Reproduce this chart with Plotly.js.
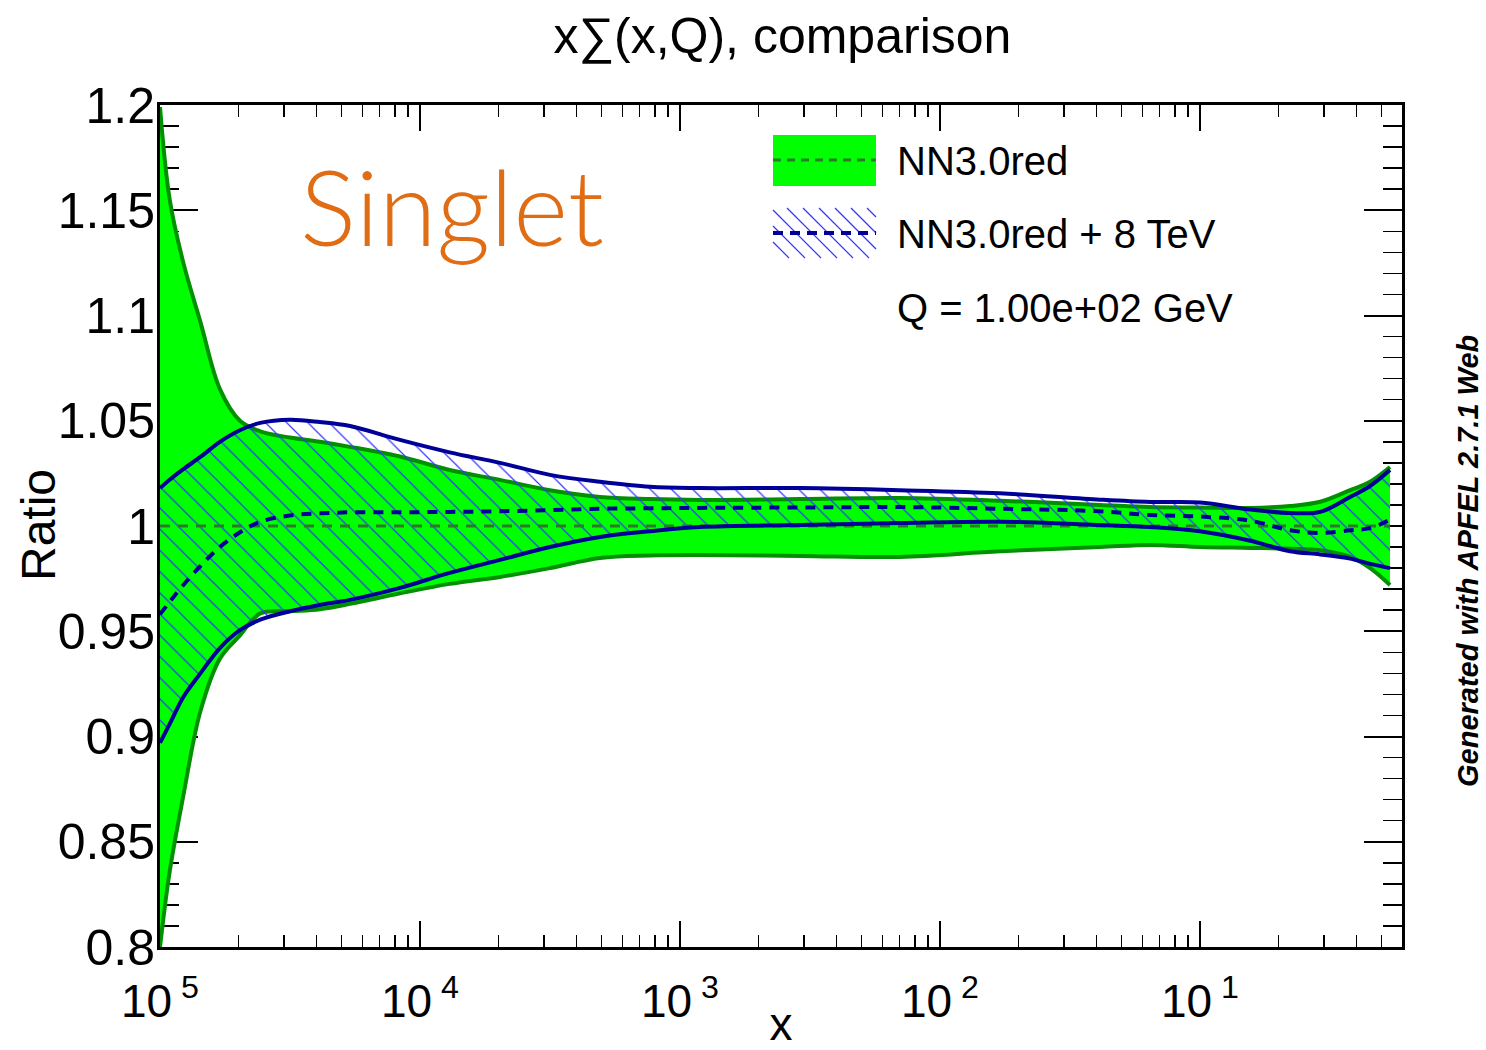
<!DOCTYPE html>
<html>
<head>
<meta charset="utf-8">
<script src="https://cdn.plot.ly/plotly-3.0.1.min.js"></script>
<style>html,body{margin:0;padding:0;background:#fff;}#chart{width:1486px;height:1050px;}</style>
</head>
<body>
<div id="chart"></div>
<script>
// x grid (values of x)
const xValues = [1e-5, 1.09e-5, 1.23e-5, 1.43e-5, 1.70e-5, 2.03e-5, 2.43e-5, 3.16e-5, 4.12e-5, 5.38e-5,
  8.38e-5, 1.30e-4, 2.03e-4, 3.16e-4, 4.92e-4, 7.67e-4, 1.19e-3, 2.90e-3, 7.02e-3, 1.70e-2,
  4.12e-2, 6.43e-2, 0.1, 0.156, 0.222, 0.29, 0.378, 0.451, 0.538];

// NN3.0red band (ratio to itself)
const refUpper = [1.199, 1.155, 1.125, 1.097, 1.065, 1.050, 1.045, 1.042, 1.040, 1.0376,
  1.033, 1.0266, 1.0219, 1.017, 1.0138, 1.0128, 1.0124, 1.0128, 1.0133, 1.012,
  1.010, 1.009, 1.0088, 1.0086, 1.0095, 1.0115, 1.017, 1.021, 1.028];
const refLower = [0.800, 0.836, 0.872, 0.912, 0.937, 0.948, 0.9585, 0.9595, 0.9605, 0.963,
  0.968, 0.9725, 0.9758, 0.980, 0.9848, 0.986, 0.9862, 0.9858, 0.9853, 0.988,
  0.990, 0.991, 0.990, 0.9896, 0.9892, 0.9885, 0.9853, 0.980, 0.972];
const refCentral = xValues.map(() => 1.0);

// NN3.0red + 8 TeV band
const newUpper = [1.018, 1.022, 1.027, 1.0328, 1.040, 1.0455, 1.049, 1.0505, 1.0494, 1.0475,
  1.0409, 1.035, 1.030, 1.0243, 1.021, 1.0186, 1.018, 1.018, 1.017, 1.0155,
  1.0125, 1.0114, 1.0112, 1.0078, 1.0062, 1.0067, 1.0138, 1.019, 1.0266];
const newLower = [0.897, 0.906, 0.9188, 0.930, 0.942, 0.9505, 0.9555, 0.9595, 0.9625, 0.9649,
  0.9706, 0.9777, 0.9839, 0.990, 0.9948, 0.9975, 0.9995, 1.0005, 1.0014, 1.002,
  1.0005, 0.9995, 0.9975, 0.993, 0.988, 0.9865, 0.9845, 0.982, 0.980];
const newCentral = [0.958, 0.964, 0.972, 0.981, 0.990, 0.997, 1.002, 1.005, 1.006, 1.0065,
  1.0065, 1.0067, 1.007, 1.0075, 1.0082, 1.0084, 1.0086, 1.0088, 1.009, 1.0082,
  1.007, 1.0052, 1.0045, 1.0025, 0.998, 0.9967, 0.998, 0.999, 1.003];

const xTickVals = [1e-5, 1e-4, 1e-3, 1e-2, 1e-1];
const xTickText = ['10<sup> 5</sup>', '10<sup> 4</sup>', '10<sup> 3</sup>', '10<sup> 2</sup>', '10<sup> 1</sup>'];
const yTickVals = [0.8, 0.85, 0.9, 0.95, 1.0, 1.05, 1.1, 1.15, 1.2];
const yTickText = ['0.8', '0.85', '0.9', '0.95', '1', '1.05', '1.1', '1.15', '1.2'];

const legendLabels = ['NN3.0red', 'NN3.0red + 8 TeV', 'Q = 1.00e+02 GeV'];

const minorX = [];
for (let e = -5; e <= -1; e++) for (let d = 2; d <= 9; d++) minorX.push(d * Math.pow(10, e));

const GREEN = '#00ff00', DKGREEN = '#009000', NAVY = '#000099', HATCH = '#3535ff';
const FONT = 'Liberation Sans, Arial, sans-serif';

const traces = [
  {x: xValues, y: refLower, type: 'scatter', mode: 'lines', line: {color: DKGREEN, width: 4, shape: 'spline'}, showlegend: false, hoverinfo: 'skip'},
  {x: xValues, y: refUpper, type: 'scatter', mode: 'lines', fill: 'tonexty', fillcolor: GREEN, line: {color: DKGREEN, width: 4, shape: 'spline'}, showlegend: false, hoverinfo: 'skip'},
  {x: xValues, y: newLower, type: 'scatter', mode: 'lines', line: {color: 'rgba(0,0,0,0)', width: 0, shape: 'spline'}, showlegend: false, hoverinfo: 'skip'},
  {x: xValues, y: newUpper, type: 'scatter', mode: 'lines', fill: 'tonexty', fillcolor: 'rgba(0,0,0,0)',
    fillpattern: {shape: '\\', fgcolor: HATCH, bgcolor: 'rgba(0,0,0,0)', size: 15, solidity: 0.08},
    line: {color: 'rgba(0,0,0,0)', width: 0, shape: 'spline'}, showlegend: false, hoverinfo: 'skip'},
  {x: xValues, y: refCentral, type: 'scatter', mode: 'lines', line: {color: '#2a7a2a', width: 3, dash: '10px,8px'}, showlegend: false, hoverinfo: 'skip'},
  {x: xValues, y: newLower, type: 'scatter', mode: 'lines', line: {color: NAVY, width: 4, shape: 'spline'}, showlegend: false, hoverinfo: 'skip'},
  {x: xValues, y: newUpper, type: 'scatter', mode: 'lines', line: {color: NAVY, width: 4, shape: 'spline'}, showlegend: false, hoverinfo: 'skip'},
  {x: xValues, y: newCentral, type: 'scatter', mode: 'lines', line: {color: NAVY, width: 4, dash: '10px,8px', shape: 'spline'}, showlegend: false, hoverinfo: 'skip'}
];

// pixel -> paper helpers for the hand-drawn legend
const L = 160, R = 1402, T = 105, B = 947;
const px = x => (x - L) / (R - L);
const py = y => (B - y) / (B - T);

const shapes = [];
shapes.push({type: 'rect', xref: 'paper', yref: 'paper', x0: px(773), x1: px(876), y0: py(186), y1: py(135), fillcolor: GREEN, line: {width: 0}});
shapes.push({type: 'line', xref: 'paper', yref: 'paper', x0: px(773), x1: px(876), y0: py(160), y1: py(160), line: {color: '#2a7a2a', width: 3, dash: '8px,6px'}});
(function () {
  const x0 = 773, x1 = 876, y0 = 208, y1 = 258, step = 16;
  for (let c = x0 - y1; c <= x1 - y0; c += step) {
    const ya = Math.max(y0, x0 - c), yb = Math.min(y1, x1 - c);
    if (yb <= ya) continue;
    shapes.push({type: 'line', xref: 'paper', yref: 'paper', x0: px(ya + c), y0: py(ya), x1: px(yb + c), y1: py(yb), line: {color: HATCH, width: 1.2}});
  }
})();
shapes.push({type: 'line', xref: 'paper', yref: 'paper', x0: px(773), x1: px(876), y0: py(233), y1: py(233), line: {color: NAVY, width: 4, dash: '10px,7px'}});

const annotations = [
  {xref: 'paper', yref: 'paper', x: px(895), y: py(161), text: legendLabels[0], showarrow: false, xanchor: 'left', yanchor: 'middle', font: {family: FONT, size: 40, color: '#000'}},
  {xref: 'paper', yref: 'paper', x: px(895), y: py(234), text: legendLabels[1], showarrow: false, xanchor: 'left', yanchor: 'middle', font: {family: FONT, size: 40, color: '#000'}},
  {xref: 'paper', yref: 'paper', x: px(895), y: py(308), text: legendLabels[2], showarrow: false, xanchor: 'left', yanchor: 'middle', font: {family: FONT, size: 40, color: '#000'}},
  {xref: 'paper', yref: 'paper', x: px(298), y: py(205), text: 'Singlet', showarrow: false, xanchor: 'left', yanchor: 'middle', font: {family: 'Lato, Open Sans, sans-serif', size: 105, weight: 300, color: '#e06c14'}},
  {xref: 'paper', yref: 'paper', x: px(1468), y: py(561), text: '<b><i>Generated with APFEL 2.7.1 Web</i></b>', textangle: -90, showarrow: false, xanchor: 'center', yanchor: 'middle', font: {family: FONT, size: 29, color: '#000'}},
  {xref: 'paper', yref: 'paper', x: px(38), y: py(525), text: 'Ratio', textangle: -90, showarrow: false, xanchor: 'center', yanchor: 'middle', font: {family: FONT, size: 48, color: '#000'}}
];

const layout = {
  width: 1486, height: 1050,
  margin: {l: L, r: 1486 - R, t: T, b: 1050 - B, pad: 0},
  paper_bgcolor: '#fff', plot_bgcolor: '#fff',
  title: {text: 'x∑(x,Q), comparison', x: 0.5265, xanchor: 'center', y: 0.966, yanchor: 'middle', font: {family: FONT, size: 50, color: '#000'}},
  xaxis: {
    type: 'log', range: [-5, -0.2231], showgrid: false, zeroline: false,
    showline: true, linecolor: '#000', linewidth: 3, mirror: 'ticks',
    ticks: 'inside', ticklen: 26, tickwidth: 2, tickcolor: '#000',
    tickmode: 'array', tickvals: xTickVals, ticktext: xTickText,
    tickfont: {family: FONT, size: 46, color: '#000'}, ticklabelstandoff: 12,
    minor: {tickmode: 'array', tickvals: minorX, ticks: 'inside', ticklen: 12, tickwidth: 1.5, tickcolor: '#000', showgrid: false},
    title: {text: 'x', font: {family: FONT, size: 46, color: '#000'}, standoff: 0},
    layer: 'below traces'
  },
  yaxis: {
    range: [0.8, 1.2], showgrid: false, zeroline: false,
    showline: true, linecolor: '#000', linewidth: 3, mirror: 'ticks',
    ticks: 'inside', ticklen: 38, tickwidth: 2, tickcolor: '#000',
    tickmode: 'array', tickvals: yTickVals, ticktext: yTickText,
    tickfont: {family: FONT, size: 50, color: '#000'}, ticklabelstandoff: -8,
    minor: {dtick: 0.01, ticks: 'inside', ticklen: 19, tickwidth: 1.5, tickcolor: '#000', showgrid: false},
    layer: 'below traces'
  },
  shapes: shapes,
  annotations: annotations,
  showlegend: false
};

Plotly.newPlot('chart', traces, layout, {displayModeBar: false, staticPlot: true});
</script>
</body>
</html>
